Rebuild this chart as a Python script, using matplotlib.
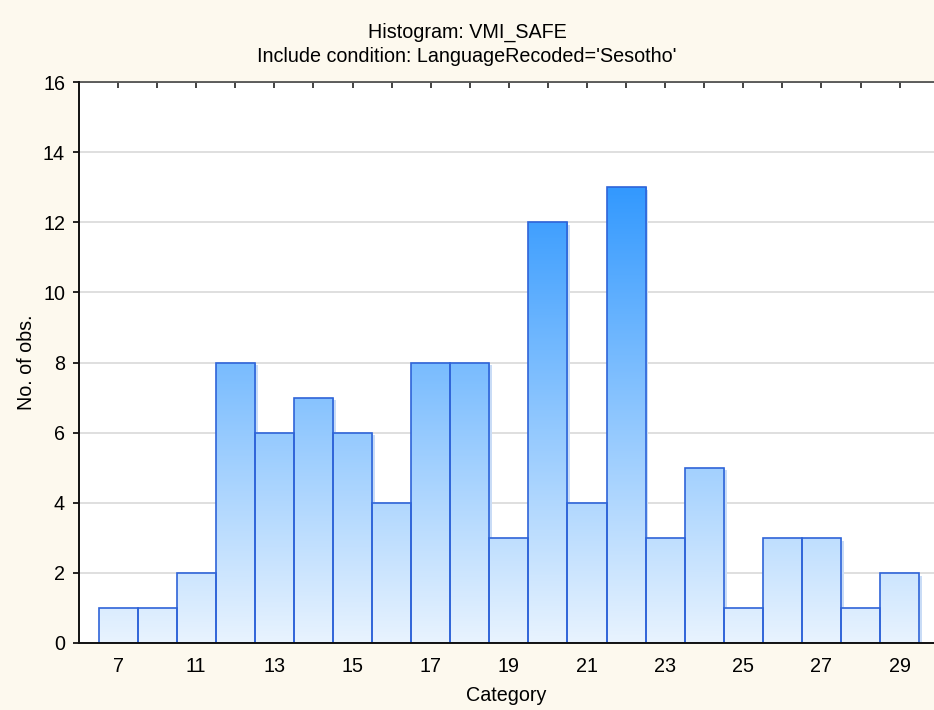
import numpy as np
import matplotlib
matplotlib.use('Agg')
import matplotlib.pyplot as plt
from matplotlib.colors import LinearSegmentedColormap

# data
categories = [7, 9, 11, 12, 13, 14, 15, 16, 17, 18, 19, 20, 21, 22, 23, 24, 25, 26, 27, 28, 29]
counts = [1, 1, 2, 8, 6, 7, 6, 4, 8, 8, 3, 12, 4, 13, 3, 5, 1, 3, 3, 1, 2]
yticks = [0, 2, 4, 6, 8, 10, 12, 14, 16]

plt.rcParams['font.family'] = ['Liberation Sans', 'DejaVu Sans']
fs = 14.2

W, H = 934, 710
fig = plt.figure(figsize=(W / 100, H / 100), dpi=100, facecolor='#FDF9EE')
ax = fig.add_axes([79 / W, 1 - 643 / H, (934 - 79) / W, (643 - 82) / H])
ax.set_facecolor('white')

x = np.arange(len(categories))
# faint drop shadow, a few pixels right and down
ax.bar(x + 0.07, np.array(counts) - 0.08, width=1.0, color='#c9dcf6', linewidth=0, zorder=1.5)
bars = ax.bar(x, counts, width=1.0, color='none', edgecolor='#2f64d8', linewidth=1.2, zorder=3)

# vertical gradient fill, same colour scale for all bars
cmap = LinearSegmentedColormap.from_list('blu', ['#E8F3FE', '#3399FF'])
top = max(counts)
for b, c in zip(bars, counts):
    g = np.linspace(0, c / top, 200).reshape(-1, 1)
    im = ax.imshow(g, extent=[b.get_x(), b.get_x() + b.get_width(), 0, c], origin='lower',
                   aspect='auto', cmap=cmap, vmin=0, vmax=1, zorder=2, interpolation='bilinear')
    im.set_clip_path(b)

ax.set_xlim(-1.0, 20.88)
ax.set_ylim(0, 16)
ax.set_yticks(yticks)
ax.set_yticklabels([str(v) for v in yticks], fontsize=fs)
ax.yaxis.grid(True, color='#d9d9d9', linewidth=1.2, zorder=0)
ax.set_axisbelow(True)

ax.set_xticks(x)
ax.set_xticklabels([str(c) if i % 2 == 0 else '' for i, c in enumerate(categories)], fontsize=fs)
ax.tick_params(axis='x', direction='in', top=True, length=4, width=1.2, color='#222222', pad=10)
ax.tick_params(axis='y', direction='out', length=4, width=1.2, pad=6)

for s in ['left', 'bottom']:
    ax.spines[s].set_color('#111111')
    ax.spines[s].set_linewidth(1.4)
    ax.spines[s].set_zorder(4)
ax.spines['top'].set_color('#444444')
ax.spines['top'].set_linewidth(1.2)
ax.spines['right'].set_visible(False)

ax.set_xlabel('Category', fontsize=fs, labelpad=7)
ax.set_ylabel('No. of obs.', fontsize=fs, labelpad=5)

fig.text(0.5, 1 - 32 / H, 'Histogram: VMI_SAFE', ha='center', va='center', fontsize=fs)
fig.text(0.5, 1 - 57 / H, "Include condition: LanguageRecoded='Sesotho'", ha='center', va='center', fontsize=fs)

fig.savefig('out.png', dpi=100, facecolor=fig.get_facecolor())
